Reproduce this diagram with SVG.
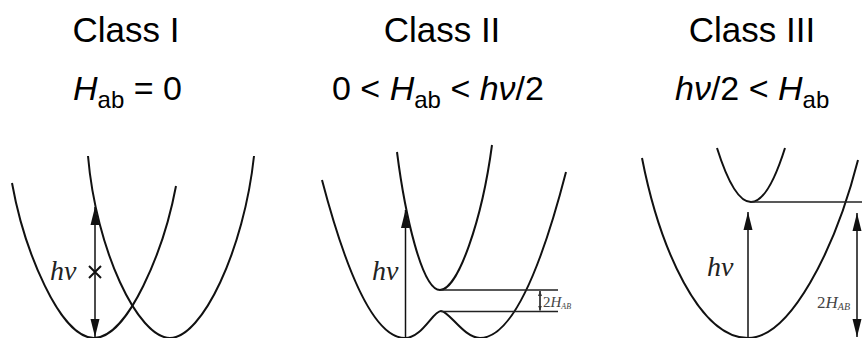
<svg xmlns="http://www.w3.org/2000/svg" width="862" height="338" viewBox="0 0 862 338">
<defs>
<style>
.title{font-family:"Liberation Sans",Arial,sans-serif;font-size:35px;fill:#000}
.cond{font-family:"Liberation Sans",Arial,sans-serif;font-size:34px;fill:#000}
.sub{font-size:24px}
.it{font-style:italic}
.curve{fill:none;stroke:#111;stroke-width:2}
.level{fill:none;stroke:#222;stroke-width:1.5}
.arrow{stroke:#111;stroke-width:1.5;fill:none}
.lbl{font-family:"Liberation Serif","Times New Roman",serif;font-style:italic;font-size:28px;fill:#222}
.small{font-family:"Liberation Serif","Times New Roman",serif;fill:#444}
</style>
<marker id="ah" markerUnits="userSpaceOnUse" markerWidth="18" markerHeight="10" refX="18" refY="5" orient="auto-start-reverse"><path d="M0,0.5 L18,5 L0,9.5 Z" fill="#111"/></marker>
<marker id="ahs" markerUnits="userSpaceOnUse" markerWidth="5" markerHeight="5" refX="5" refY="2.5" orient="auto-start-reverse"><path d="M0,0.5 L5,2.5 L0,4.5 Z" fill="#333"/></marker>
</defs>
<rect width="862" height="338" fill="#fff"/>

<g id="panel1">
<text class="title" x="126" y="42" text-anchor="middle">Class I</text>
<text class="cond" x="73" y="100"><tspan class="it">H</tspan><tspan class="sub" dy="8">ab</tspan><tspan dy="-8"> = 0</tspan></text>
<path class="curve" d="M12,183 C24,250 60,338 94,338 C128,338 164,250 176,186"/>
<path class="curve" d="M88,156 C96,250 138,338 170,338 C202,338 244,250 254,156"/>
<text class="lbl" x="50" y="280">hν</text>
<path d="M89,266 L101,278 M89,278 L101,266" stroke="#111" stroke-width="2" fill="none"/>
</g>

<g id="panel2">
<text class="title" x="442" y="42" text-anchor="middle">Class II</text>
<text class="cond" x="332" y="100">0 &lt; <tspan class="it">H</tspan><tspan class="sub" dy="8">ab</tspan><tspan dy="-8"> &lt; </tspan><tspan class="it">hν</tspan>/2</text>
<path class="curve" d="M322,180 Q363.5,338 405,338 C422,338 433,311 441,311 C449,311 464,338 480,338 Q523,338 566,172"/>
<path class="curve" d="M397,152 C405,215 422,290 440,290 C458,290 482,220 492,145"/>
<path class="level" d="M441,290 H558 M441,311.5 H558"/>
<text class="lbl" x="372" y="280">hν</text>
<text class="small" x="543" y="307" font-size="15">2<tspan font-style="italic">H</tspan><tspan font-size="8" font-style="italic" dy="2">AB</tspan></text>
</g>

<g id="panel3">
<text class="title" x="752" y="42" text-anchor="middle">Class III</text>
<text class="cond" x="675" y="100"><tspan class="it">hν</tspan>/2 &lt; <tspan class="it">H</tspan><tspan class="sub" dy="8">ab</tspan></text>
<path class="curve" d="M642,158 C660,250 700,338 748,338 C790,338 835,250 858,160"/>
<path class="curve" d="M717,148 Q751,256 785,148"/>
<path class="level" d="M751,202 H862"/>
<text class="lbl" x="707" y="276">hν</text>
<text class="small" x="817" y="308" font-size="17">2<tspan font-style="italic">H</tspan><tspan font-size="10" font-style="italic" dy="2">AB</tspan></text>
</g>

<g id="connectors">
<line class="arrow" x1="95" y1="337" x2="95" y2="207" marker-start="url(#ah)" marker-end="url(#ah)"/>
<line class="arrow" x1="405.5" y1="338" x2="405.5" y2="210" marker-end="url(#ah)"/>
<line class="arrow" x1="540" y1="310.5" x2="540" y2="291" stroke-width="1" marker-start="url(#ahs)" marker-end="url(#ahs)"/>
<line class="arrow" x1="748" y1="338" x2="748" y2="212" marker-end="url(#ah)"/>
<line class="arrow" x1="857" y1="337" x2="857" y2="213" marker-start="url(#ah)" marker-end="url(#ah)"/>
</g>
</svg>
